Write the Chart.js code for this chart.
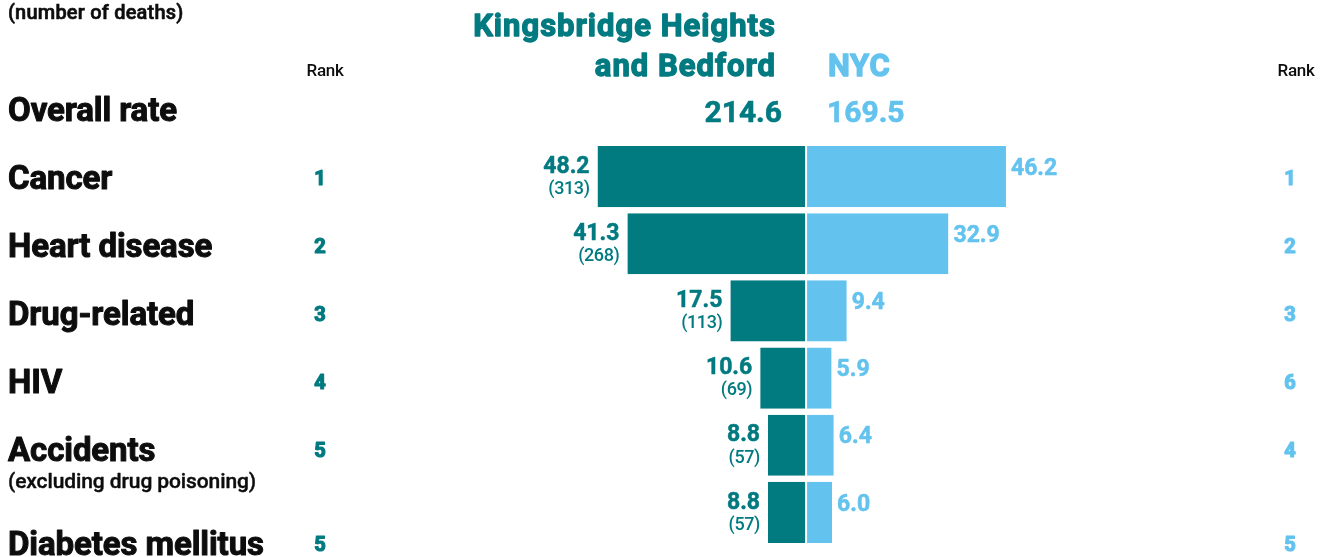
<!DOCTYPE html>
<html>
<head>
<meta charset="utf-8">
<title>Leading causes of death</title>
<script src="https://cdn.jsdelivr.net/npm/chart.js@4/dist/chart.umd.min.js"></script>
<style>
  html, body { margin: 0; padding: 0; background: #fff; }
  #wrap { width: 1324px; height: 557px; }
</style>
</head>
<body>
<div id="wrap"><canvas id="deaths" width="1324" height="557"></canvas></div>
<script>
// age-adjusted death rates per 100,000 residents
var categories = ['Cancer', 'Heart disease', 'Drug-related', 'HIV', 'Accidents', 'Diabetes mellitus'];
var categoryNotes = ['', '', '', '', '(excluding drug poisoning)', ''];
var kbRates = [48.2, 41.3, 17.5, 10.6, 8.8, 8.8];
var kbDeaths = [313, 268, 113, 69, 57, 57];
var nycRates = [46.2, 32.9, 9.4, 5.9, 6.4, 6.0];
var kbRank = [1, 2, 3, 4, 5, 5];
var nycRank = [1, 2, 3, 6, 4, 5];
var kbOverall = 214.6;
var nycOverall = 169.5;

var TEAL = '#017a80';
var SKY = '#63c3ee';
var INK = '#0d0d0d';

// text is placed by the vertical centre of its capitals;
// `heavy` thickens the strokes since only regular/bold weights are installed
function put(ctx, str, x, cy, size, weight, color, align, spacing, heavy) {
  ctx.font = weight + ' ' + size + 'px Roboto, "Noto Sans", sans-serif';
  ctx.fillStyle = color;
  ctx.textAlign = align || 'left';
  ctx.textBaseline = 'alphabetic';
  ctx.letterSpacing = (spacing || 0) + 'px';
  var y = cy + size * 0.355;
  ctx.fillText(str, x, y);
  if (heavy) {
    ctx.strokeStyle = color;
    ctx.lineWidth = heavy;
    ctx.lineJoin = 'round';
    ctx.strokeText(str, x, y);
  }
}

var labelsPlugin = {
  id: 'butterflyLabels',
  afterDraw: function(chart) {
    var ctx = chart.ctx;
    ctx.save();

    // headers
    put(ctx, '(number of deaths)', 8, 12, 20, 500, INK, 'left', 0.2, 0.6);
    put(ctx, 'Kingsbridge Heights', 776, 25, 31, 700, TEAL, 'right', 1, 1.3);
    put(ctx, 'and Bedford', 776, 65, 31, 700, TEAL, 'right', 1, 1.3);
    put(ctx, 'NYC', 828, 65, 31, 700, SKY, 'left', 0.6, 1.3);
    put(ctx, 'Rank', 325, 70, 17, 500, INK, 'center', -0.3);
    put(ctx, 'Rank', 1296, 70, 17, 500, INK, 'center', -0.3);
    put(ctx, 'Overall rate', 8, 109, 33, 700, INK, 'left', -0.1, 1);
    put(ctx, kbOverall.toFixed(1), 782, 111, 30, 700, TEAL, 'right', 0, 0.6);
    put(ctx, nycOverall.toFixed(1), 827, 111, 30, 700, SKY, 'left', 0, 0.6);

    // row captions and ranks
    var rowY = [177, 245, 313, 381, 449, 543];
    categories.forEach(function(c, i) {
      put(ctx, c, 8, rowY[i], 33, 700, INK, 'left', -0.1, 1);
      if (categoryNotes[i]) put(ctx, categoryNotes[i], 8, rowY[i] + 32, 21, 500, INK, 'left', -0.1, 0.4);
      put(ctx, String(kbRank[i]), 320, rowY[i] + 1, 20, 700, TEAL, 'center', 0, 1.2);
      put(ctx, String(nycRank[i]), 1290, rowY[i] + 1, 20, 700, SKY, 'center', 0, 1.2);
    });

    // values beside the bars
    var left = chart.getDatasetMeta(0).data;
    var right = chart.getDatasetMeta(1).data;
    left.forEach(function(bar, i) {
      put(ctx, kbRates[i].toFixed(1), bar.x - 8, bar.y - 12, 23, 700, TEAL, 'right', 0, 0.5);
      put(ctx, '(' + kbDeaths[i] + ')', bar.x - 8, bar.y + 11, 18, 500, TEAL, 'right', -0.4);
    });
    right.forEach(function(bar, i) {
      put(ctx, nycRates[i].toFixed(1), bar.x + 5, bar.y - 10, 23, 700, SKY, 'left', 0, 0.5);
    });

    ctx.restore();
  }
};

new Chart(document.getElementById('deaths'), {
  type: 'bar',
  data: {
    labels: categories,
    datasets: [
      {
        label: 'Kingsbridge Heights and Bedford',
        data: kbRates.map(function(v) { return -v; }),
        backgroundColor: TEAL,
        borderColor: '#fff',
        borderWidth: { top: 0, bottom: 0, left: 0, right: 1 },
        borderSkipped: false
      },
      {
        label: 'NYC',
        data: nycRates,
        backgroundColor: SKY,
        borderColor: '#fff',
        borderWidth: { top: 0, bottom: 0, left: 1, right: 0 },
        borderSkipped: false
      }
    ]
  },
  options: {
    indexAxis: 'y',
    responsive: false,
    animation: false,
    layout: { padding: { top: 143, bottom: 11, left: 0, right: 0 } },
    datasets: { bar: { barPercentage: 1, categoryPercentage: 0.91 } },
    plugins: { legend: { display: false }, tooltip: { enabled: false } },
    scales: {
      x: { stacked: true, min: -186.3, max: 119.7, display: false },
      y: { stacked: true, display: false }
    }
  },
  plugins: [labelsPlugin]
});
</script>
</body>
</html>
